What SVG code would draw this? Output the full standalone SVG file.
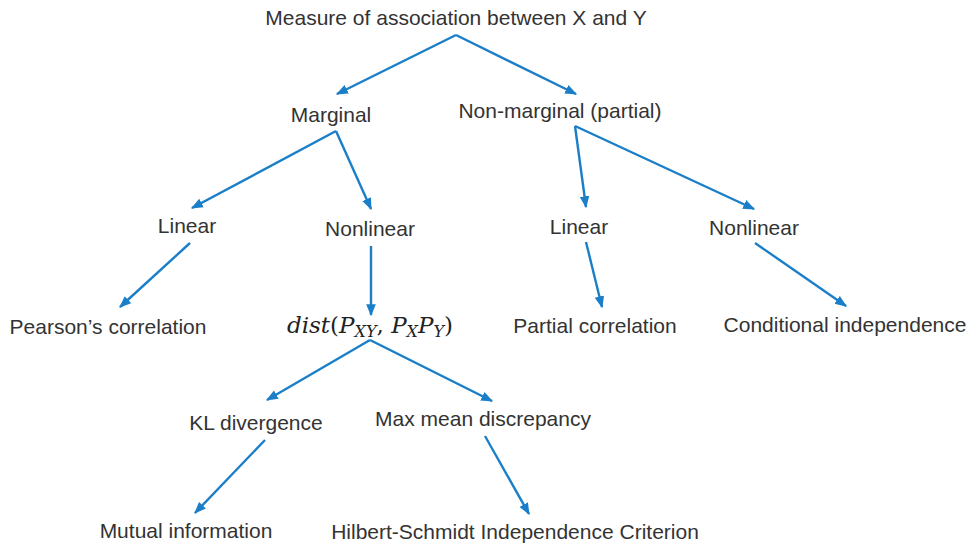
<svg xmlns="http://www.w3.org/2000/svg" width="969" height="545" viewBox="0 0 969 545">
<defs>
<marker id="ah" viewBox="0 0 10 10" refX="9" refY="5" markerWidth="5" markerHeight="5" orient="auto" markerUnits="strokeWidth">
<path d="M0,1 L10,5 L0,9 z" fill="#1a7fc8"/>
</marker>
<style>
.t{font-family:"Liberation Sans",Arial,sans-serif;font-size:21px;fill:#333;text-anchor:middle}
.m{font-family:"DejaVu Serif",serif;font-size:23px;fill:#222;text-anchor:middle}
.c line{stroke:#1a7fc8;stroke-width:2.4;marker-end:url(#ah)}
</style>
</defs>
<rect width="969" height="545" fill="#fff"/>
<g class="c">
<line x1="456" y1="35" x2="337" y2="94"/>
<line x1="456" y1="35" x2="576" y2="94"/>
<line x1="336" y1="131" x2="192" y2="208"/>
<line x1="336" y1="131" x2="371" y2="209"/>
<line x1="575" y1="126" x2="586" y2="207"/>
<line x1="575" y1="126" x2="754" y2="209"/>
<line x1="190" y1="243" x2="120" y2="307"/>
<line x1="371" y1="246" x2="371" y2="315"/>
<line x1="586" y1="242" x2="602" y2="307"/>
<line x1="755" y1="243" x2="846" y2="306"/>
<line x1="370" y1="340" x2="267" y2="400"/>
<line x1="370" y1="340" x2="492" y2="401"/>
<line x1="265" y1="440" x2="195" y2="513"/>
<line x1="485" y1="436" x2="529" y2="514"/>
</g>
<g id="root"><text class="t" x="456" y="25">Measure of association between X and Y</text></g>
<g id="marginal"><text class="t" x="331" y="122">Marginal</text></g>
<g id="nonmarginal"><text class="t" x="560" y="118">Non-marginal (partial)</text></g>
<g id="linear1"><text class="t" x="187" y="233">Linear</text></g>
<g id="nonlinear1"><text class="t" x="370" y="236">Nonlinear</text></g>
<g id="linear2"><text class="t" x="579" y="234">Linear</text></g>
<g id="nonlinear2"><text class="t" x="754" y="235">Nonlinear</text></g>
<g id="pearson"><text class="t" x="108" y="334">Pearson’s correlation</text></g>
<g id="dist"><text class="m" x="370" y="333"><tspan font-style="italic">dist</tspan>(<tspan font-style="italic">P</tspan><tspan font-style="italic" font-size="16" dy="4">XY</tspan><tspan dy="-4">, </tspan><tspan font-style="italic">P</tspan><tspan font-style="italic" font-size="16" dy="4">X</tspan><tspan font-style="italic" dy="-4">P</tspan><tspan font-style="italic" font-size="16" dy="4">Y</tspan><tspan dy="-4">)</tspan></text></g>
<g id="partial"><text class="t" x="595" y="333">Partial correlation</text></g>
<g id="condind"><text class="t" x="845" y="332">Conditional independence</text></g>
<g id="kl"><text class="t" x="256" y="430">KL divergence</text></g>
<g id="mmd"><text class="t" x="483" y="426">Max mean discrepancy</text></g>
<g id="mi"><text class="t" x="186" y="538">Mutual information</text></g>
<g id="hsic"><text class="t" x="515" y="539">Hilbert-Schmidt Independence Criterion</text></g>
</svg>
